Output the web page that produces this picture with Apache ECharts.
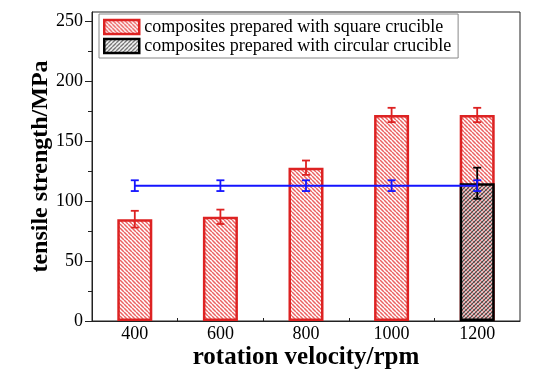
<!DOCTYPE html>
<html>
<head>
<meta charset="utf-8">
<script src="https://cdn.jsdelivr.net/npm/echarts@6/dist/echarts.min.js"></script>
<style>html,body{margin:0;padding:0;background:#fff}#c{width:540px;height:375px}</style>
</head>
<body>
<div id="c"></div>
<script>
// ---- data ----
const rpm = [400, 600, 800, 1000, 1200];
const squareStrength = [85, 87, 128, 172, 172];
const squareErr = [7, 6, 6, 6, 6];
const circularRpm = [1200];
const circularStrength = [115];
const circularErr = [13];
const refStrength = [113, 113, 113, 113, 113];
const refErr = [4.5, 4.5, 4.5, 4.5, 4.5];
const yMajorTicks = [0, 50, 100, 150, 200, 250];
const yMinorTicks = [25, 75, 125, 175, 225];
const xMajorTicks = [400, 600, 800, 1000, 1200];
const xMinorTicks = [500, 700, 900, 1100];
const squareName = 'composites prepared with square crucible';
const circularName = 'composites prepared with circular crucible';

// ---- patterns ----
function hatch(size, specs) {
  const c = document.createElement('canvas');
  c.width = c.height = size;
  const g = c.getContext('2d');
  g.fillStyle = '#fff';
  g.fillRect(0, 0, size, size);
  specs.forEach(s => {
    g.strokeStyle = s.color;
    g.lineWidth = s.width;
    g.beginPath();
    for (let k = -size; k <= size; k += size) {
      if (s.dir === '\\') { g.moveTo(k, 0); g.lineTo(k + size, size); }
      else { g.moveTo(k, size); g.lineTo(k + size, 0); }
    }
    g.stroke();
  });
  return { image: c, repeat: 'repeat' };
}
const redHatch = hatch(4, [{ dir: '\\', color: 'rgba(232,70,70,0.85)', width: 1.5 }]);
const crossHatch = hatch(4, [
  { dir: '\\', color: 'rgba(220,90,90,0.8)', width: 1.3 },
  { dir: '/', color: 'rgba(50,50,50,0.85)', width: 1.3 }
]);
const greyHatch = hatch(4, [{ dir: '/', color: 'rgba(70,70,70,0.85)', width: 1.3 }]);

const RED = '#dd2222';
const FONT = 'Liberation Serif';

function errBars(color) {
  return function (params, api) {
    const x = api.value(0), lo = api.value(1), hi = api.value(2);
    const a = api.coord([x, lo]), b = api.coord([x, hi]);
    const w = 4;
    const st = { stroke: color, lineWidth: 1.8 };
    return {
      type: 'group',
      children: [
        { type: 'line', shape: { x1: a[0], y1: a[1], x2: b[0], y2: b[1] }, style: st },
        { type: 'line', shape: { x1: a[0] - w, y1: a[1], x2: a[0] + w, y2: a[1] }, style: st },
        { type: 'line', shape: { x1: b[0] - w, y1: b[1], x2: b[0] + w, y2: b[1] }, style: st }
      ]
    };
  };
}

const chart = echarts.init(document.getElementById('c'), null, { renderer: 'canvas' });
chart.setOption({
  animation: false,
  backgroundColor: '#fff',
  grid: { left: 92, right: 20, top: 12, bottom: 54, containLabel: false, outerBoundsMode: 'none', show: true, borderColor: '#222', borderWidth: 1, backgroundColor: 'transparent' },
  legend: {
    orient: 'vertical', left: 99, top: 14, selectedMode: false,
    padding: [4, 7, 3, 4], itemGap: 1, itemWidth: 35, itemHeight: 14,
    borderColor: '#888', borderWidth: 1, backgroundColor: '#fff',
    textStyle: { fontFamily: FONT, fontSize: 18, color: '#000' },
    data: [
      { name: squareName, icon: 'rect', itemStyle: { color: redHatch, borderColor: RED, borderWidth: 2.5 } },
      { name: circularName, icon: 'rect', itemStyle: { color: greyHatch, borderColor: '#000', borderWidth: 2.5 } }
    ]
  },
  xAxis: [{
    type: 'value', min: 300, max: 1300, interval: 100,
    name: 'rotation velocity/rpm', nameLocation: 'middle', nameGap: 24, nameMoveOverlap: false,
    nameTextStyle: { fontFamily: FONT, fontSize: 25, fontWeight: 'bold', color: '#000' },
    axisLine: { show: true, lineStyle: { color: '#222', width: 1 } },
    axisTick: { show: true, inside: true, length: 5, customValues: xMajorTicks, lineStyle: { color: '#222' } },
    axisLabel: { customValues: xMajorTicks, formatter: v => String(v), fontFamily: FONT, fontSize: 18, color: '#000', margin: 4 },
    splitLine: { show: false }
  }, {
    type: 'value', min: 300, max: 1300, position: 'bottom',
    axisLine: { show: false },
    axisTick: { show: true, inside: true, length: 3, customValues: xMinorTicks, lineStyle: { color: '#222' } },
    axisLabel: { show: false },
    splitLine: { show: false }
  }],
  yAxis: [{
    type: 'value', min: 0, max: 258,
    name: 'tensile strength/MPa', nameLocation: 'middle', nameGap: 39, nameMoveOverlap: false,
    nameTextStyle: { fontFamily: FONT, fontSize: 24, fontWeight: 'bold', color: '#000' },
    axisLine: { show: true, lineStyle: { color: '#222', width: 1 } },
    axisTick: { show: true, inside: false, length: 7, customValues: yMajorTicks, lineStyle: { color: '#222' } },
    axisLabel: { customValues: yMajorTicks, formatter: v => String(v), fontFamily: FONT, fontSize: 18, color: '#000', margin: 9 },
    splitLine: { show: false }
  }, {
    type: 'value', min: 0, max: 258, position: 'left',
    axisLine: { show: false },
    axisTick: { show: true, inside: false, length: 4, customValues: yMinorTicks, lineStyle: { color: '#222' } },
    axisLabel: { show: false },
    splitLine: { show: false }
  }],
  series: [
    {
      name: squareName, type: 'bar', barWidth: 35, barGap: '-100%', z: 2,
      data: rpm.map((x, i) => [x, squareStrength[i]]),
      itemStyle: { color: redHatch, borderColor: RED, borderWidth: 2.5 }
    },
    {
      name: circularName, type: 'bar', barWidth: 35, barGap: '-100%', z: 3,
      data: circularRpm.map((x, i) => [x, circularStrength[i]]),
      itemStyle: { color: crossHatch, borderColor: '#000', borderWidth: 2.5 }
    },
    {
      type: 'line', z: 4, symbol: 'none',
      data: rpm.map((x, i) => [x, refStrength[i]]),
      lineStyle: { color: '#1414ff', width: 2 }
    },
    {
      type: 'custom', z: 5, renderItem: errBars(RED),
      data: rpm.map((x, i) => [x, squareStrength[i] - squareErr[i], squareStrength[i] + squareErr[i]])
    },
    {
      type: 'custom', z: 5, renderItem: errBars('#000'),
      data: circularRpm.map((x, i) => [x, circularStrength[i] - circularErr[i], circularStrength[i] + circularErr[i]])
    },
    {
      type: 'custom', z: 6, renderItem: errBars('#1414ff'),
      data: rpm.map((x, i) => [x, refStrength[i] - refErr[i], refStrength[i] + refErr[i]])
    }
  ]
});
</script>
</body>
</html>
